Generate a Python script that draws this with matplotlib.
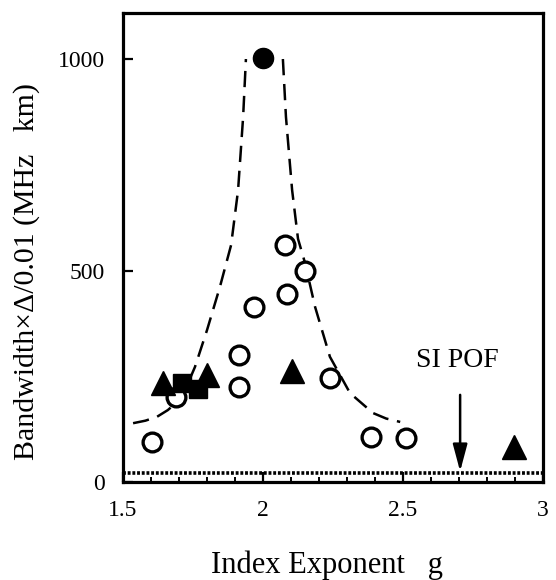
import numpy as np
import matplotlib
matplotlib.use("Agg")
import matplotlib.pyplot as plt
from matplotlib.ticker import MultipleLocator

plt.rcParams['font.family'] = ['Liberation Serif', 'DejaVu Serif']

# open circles
open_g = [1.605, 1.689, 1.914, 1.914, 1.968, 2.079, 2.086, 2.150, 2.239, 2.386, 2.511]
open_bw = [95, 201, 300, 225, 414, 560, 444, 499, 246, 106, 104]

# filled circle
full_g = [2.0]
full_bw = [1002]

# filled triangles
tri_g = [1.643, 1.800, 2.104, 2.896]
tri_bw = [234, 253, 262, 83]

# filled squares
sq_g = [1.711, 1.768]
sq_bw = [234, 220]

# dashed guide curve, left and right branches
left_g = [1.536, 1.580, 1.621, 1.660, 1.693, 1.730, 1.757, 1.800, 1.846, 1.886, 1.911, 1.929, 1.939]
left_bw = [139, 145, 154, 170, 189, 230, 272, 359, 461, 560, 690, 863, 1000]
right_g = [2.071, 2.082, 2.104, 2.125, 2.150, 2.186, 2.239, 2.311, 2.393, 2.440, 2.490]
right_bw = [1000, 863, 690, 575, 518, 414, 296, 210, 163, 150, 142]

si_pof_g = 2.704
si_pof_level = 21

W, H = 556, 580
fig = plt.figure(figsize=(W / 100, H / 100), dpi=100)
ax = fig.add_axes([123 / W, 1 - 482 / H, 420 / W, (482 - 12.5) / H])

ax.plot(left_g, left_bw, color='black', lw=1.8, dashes=(6.5, 3.5))
ax.plot(right_g, right_bw, color='black', lw=1.8, dashes=(6.5, 3.5))
ax.axhline(si_pof_level, color='black', lw=2.6, linestyle=(0, (0.8, 0.5)))

ax.plot(open_g, open_bw, 'o', ms=13.5, mfc='white', mec='black', mew=2.4, ls='none')
ax.plot(full_g, full_bw, 'o', ms=14.5, color='black', ls='none')
ax.plot(sq_g, sq_bw, 's', ms=13.5, color='black', ls='none')
ax.plot(tri_g, tri_bw, '^', ms=17, color='black', ls='none')

ax.annotate('', xy=(si_pof_g, 25), xytext=(si_pof_g, 206),
            arrowprops=dict(arrowstyle='-|>,head_length=0.75,head_width=0.2',
                            color='black', lw=1.8,
                            mutation_scale=22, shrinkA=0, shrinkB=0))
ax.text(si_pof_g - 0.01, 288, 'SI POF', fontsize=20, ha='center', va='center')

ax.set_xlim(1.5, 3)
ax.set_ylim(0, 1110)
ax.set_xticks([1.5, 2, 2.5, 3])
ax.set_xticklabels(['1.5', '2', '2.5', '3'])
ax.xaxis.set_minor_locator(MultipleLocator(0.1))
ax.set_yticks([0, 500, 1000])

ax.tick_params(axis='both', which='major', direction='in', length=7, width=1.6,
               labelsize=17, pad=13)
ax.tick_params(axis='x', which='minor', direction='in', length=3.5, width=1.4)
for s in ax.spines.values():
    s.set_linewidth(2.3)

fig.text(27 / W, 1 - 271 / H, 'Bandwidth\u00d7\u0394/0.01 (MHz   km)', rotation=90,
         ha='center', va='center', fontsize=21.5)
fig.text(327 / W, 1 - 565 / H, 'Index Exponent   g', ha='center', va='center', fontsize=22)

fig.savefig('out.png', dpi=100)
